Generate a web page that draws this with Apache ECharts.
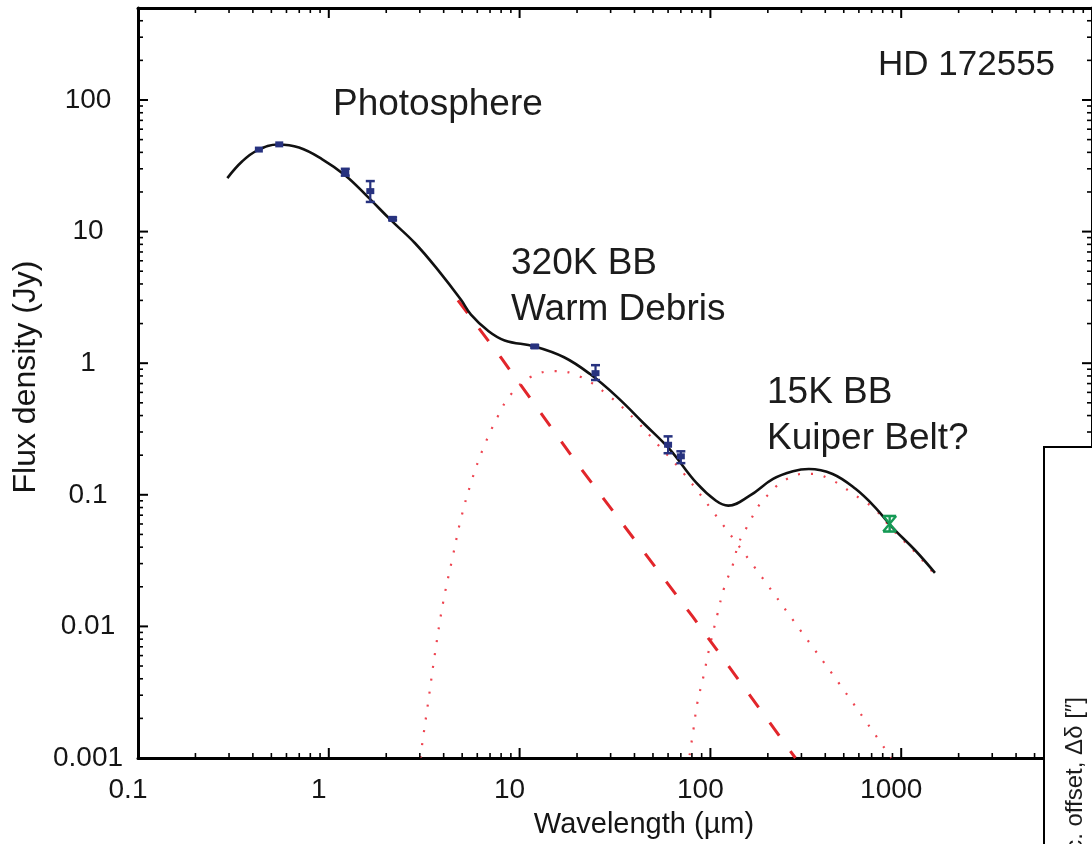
<!DOCTYPE html>
<html>
<head>
<meta charset="utf-8">
<script src="https://cdn.jsdelivr.net/npm/echarts@6/dist/echarts.min.js"></script>
<style>
html,body{margin:0;padding:0;background:#fff;}
#chart{width:1092px;height:844px;}
</style>
</head>
<body>
<div id="chart"></div>
<script>
// ---- data ----
const xTickLabels = ['0.1', '1', '10', '100', '1000'];
const yTickLabels = ['0.001', '0.01', '0.1', '1', '10', '100'];

// total model (photosphere + 320 K + 15 K)
const totalWl   = [0.294,0.352,0.422,0.542,0.698,0.920,1.226,1.616,2.13,2.84,3.74,4.93,5.56,6.81,8.35,12.0,17.1,23.4,32.4,44.8,61.1,84.5,107,124,160,213,271,328,437,576,732,898,1183,1503];
const totalFlux = [25.5,34.2,41.4,45.9,43.5,35.6,26.6,18.1,12.1,8.12,5.09,3.03,2.34,1.77,1.49,1.34,1.11,0.827,0.555,0.348,0.222,0.123,0.0901,0.0827,0.098,0.132,0.151,0.157,0.144,0.111,0.080,0.0565,0.0379,0.0255];

// photosphere (Rayleigh-Jeans tail, dashed)
const photWl   = [4.75, 7.96, 20.5, 80.6, 279];
const photFlux = [3.0, 1.11, 0.165, 0.0119, 0.001];

// 320 K blackbody, warm debris (dotted)
const warmWl   = [3.02,3.05,3.32,3.61,3.97,4.48,4.93,5.56,6.42,7.68,8.97,11.4,15.2,20.5,29.8,41.2,52.3,72.3,115,184,294,470,741,887];
const warmFlux = [0.001,0.00113,0.00268,0.00638,0.0151,0.0348,0.0660,0.123,0.222,0.393,0.575,0.785,0.871,0.798,0.555,0.360,0.246,0.146,0.0605,0.0242,0.00949,0.00373,0.00146,0.001];

// 15 K blackbody, Kuiper belt (dotted)
const coldWl   = [77.8,81.5,85.5,91.9,97.7,109,118,132,140,156,182,203,226,258,301,352,412,470,542,611,732,898,1183,1503];
const coldFlux = [0.00105,0.00165,0.00264,0.00414,0.00638,0.0125,0.0196,0.0303,0.0421,0.0575,0.0856,0.102,0.119,0.134,0.144,0.144,0.134,0.121,0.105,0.0933,0.0771,0.0546,0.0366,0.0246];

// photometry (blue)
const obsWl   = [0.43, 0.55, 1.22, 1.65, 2.16, 12, 25, 60, 70];
const obsFlux = [42, 46, 28.3, 20.3, 12.5, 1.34, 0.84, 0.24, 0.196];
const obsLo   = [42, 46, 26.6, 16.8, 12.2, 1.31, 0.745, 0.207, 0.174];
const obsHi   = [42, 46, 30.0, 24.2, 12.8, 1.37, 0.966, 0.278, 0.214];

// sub-mm point (green)
const smmWl   = [870];
const smmFlux = [0.0605];
const smmLo   = [0.0526];
const smmHi   = [0.069];

// ---- axis ranges ----
const X_MIN = 0.1, X_MAX = 10000, Y_MIN = 0.001, Y_MAX = 500;

const FONT = '"Liberation Sans", Helvetica, Arial, sans-serif';

function zip(a, b) { return a.map((v, i) => [v, b[i]]); }

// tick values (major = decades, minor = 2..9 x decade)
const xTicks = [], yTicks = [];
for (let e = -1; e <= 4; e++) {
  const base = Math.pow(10, e);
  xTicks.push([base, 1, 2]);
  if (e < 4) for (let m = 2; m <= 9; m++) xTicks.push([m * base, 1, 1]);
}
for (let e = -3; e <= 2; e++) {
  const base = Math.pow(10, e);
  yTicks.push([1, base, 2]);
  for (let m = 2; m <= 9; m++) { if (m * base < Y_MAX) yTicks.push([1, m * base, 1]); }
}

function labelFmt(labels, minExp) {
  return function (v) {
    const e = Math.log10(v);
    const r = Math.round(e);
    if (Math.abs(e - r) > 1e-6) return '';
    return labels[r - minExp] || '';
  };
}

function renderXTick(params, api) {
  const v = api.value(0), major = api.value(2) === 2;
  const len = major ? 10 : 5;
  const b = api.coord([v, Y_MIN]);
  const t = api.coord([v, Y_MAX]);
  const st = { stroke: '#000', lineWidth: major ? 2 : 1.6 };
  return { type: 'group', children: [
    { type: 'line', shape: { x1: b[0], y1: b[1], x2: b[0], y2: b[1] - len }, style: st },
    { type: 'line', shape: { x1: t[0], y1: t[1], x2: t[0], y2: t[1] + len }, style: st }
  ]};
}
function renderYTick(params, api) {
  const v = api.value(1), major = api.value(2) === 2;
  const len = major ? 10 : 5;
  const l = api.coord([X_MIN, v]);
  const r = api.coord([X_MAX, v]);
  const st = { stroke: '#000', lineWidth: major ? 2 : 1.6 };
  return { type: 'group', children: [
    { type: 'line', shape: { x1: l[0], y1: l[1], x2: l[0] + len, y2: l[1] }, style: st },
    { type: 'line', shape: { x1: r[0], y1: r[1], x2: r[0] - len, y2: r[1] }, style: st }
  ]};
}

function renderObs(params, api) {
  const x = api.value(0), y = api.value(1), lo = api.value(2), hi = api.value(3);
  const c = api.coord([x, y]), pl = api.coord([x, lo]), ph = api.coord([x, hi]);
  const col = '#27327f';
  const kids = [];
  if (Math.abs(pl[1] - ph[1]) > 1) {
    kids.push({ type: 'line', shape: { x1: c[0], y1: pl[1], x2: c[0], y2: ph[1] }, style: { stroke: col, lineWidth: 2.2 } });
    kids.push({ type: 'line', shape: { x1: c[0] - 4.5, y1: pl[1], x2: c[0] + 4.5, y2: pl[1] }, style: { stroke: col, lineWidth: 2.5 } });
    kids.push({ type: 'line', shape: { x1: c[0] - 4.5, y1: ph[1], x2: c[0] + 4.5, y2: ph[1] }, style: { stroke: col, lineWidth: 2.5 } });
  }
  kids.push({ type: 'rect', shape: { x: c[0] - 4, y: c[1] - 3, width: 8, height: 6 }, style: { fill: col } });
  return { type: 'group', children: kids };
}
function renderSmm(params, api) {
  const x = api.value(0), y = api.value(1), lo = api.value(2), hi = api.value(3);
  const c = api.coord([x, y]), pl = api.coord([x, lo]), ph = api.coord([x, hi]);
  const col = '#159a55';
  const w = 6.5;
  return { type: 'group', children: [
    { type: 'line', shape: { x1: c[0] - w, y1: pl[1], x2: c[0] + w, y2: pl[1] }, style: { stroke: col, lineWidth: 2.6 } },
    { type: 'line', shape: { x1: c[0] - w, y1: ph[1], x2: c[0] + w, y2: ph[1] }, style: { stroke: col, lineWidth: 2.6 } },
    { type: 'polyline', shape: { points: [[c[0] - w, ph[1]], [c[0] + w, pl[1]]] }, style: { stroke: col, lineWidth: 2.4, fill: null } },
    { type: 'polyline', shape: { points: [[c[0] + w, ph[1]], [c[0] - w, pl[1]]] }, style: { stroke: col, lineWidth: 2.4, fill: null } },
    { type: 'line', shape: { x1: c[0], y1: pl[1], x2: c[0], y2: ph[1] }, style: { stroke: col, lineWidth: 2.4 } }
  ]};
}

const axisLineStyle = { show: true, lineStyle: { color: '#000', width: 3 } };
const labelStyle = { color: '#151515', fontSize: 28, fontFamily: FONT };

const chart = echarts.init(document.getElementById('chart'), null, { renderer: 'canvas' });
chart.setOption({
  animation: false,
  backgroundColor: '#fff',
  grid: { left: 138, top: 8, width: 960, height: 757, containLabel: false },
  xAxis: [
    {
      type: 'log', logBase: 10, min: X_MIN, max: X_MAX, position: 'bottom',
      axisLine: axisLineStyle, axisTick: { show: false }, splitLine: { show: false },
      axisLabel: Object.assign({ margin: 18, align: 'center', padding: [0, 20, 0, 0],
        formatter: labelFmt(xTickLabels, -1), showMaxLabel: false }, labelStyle),
      name: 'Wavelength (\u00b5m)', nameLocation: 'middle', nameGap: 52,
      nameTextStyle: { color: '#151515', fontSize: 29, fontFamily: FONT, padding: [0, 0, 0, 58] }
    },
    {
      type: 'log', logBase: 10, min: X_MIN, max: X_MAX, position: 'top',
      axisLine: axisLineStyle, axisTick: { show: false }, splitLine: { show: false }, axisLabel: { show: false }
    }
  ],
  yAxis: [
    {
      type: 'log', logBase: 10, min: Y_MIN, max: Y_MAX, position: 'left',
      axisLine: axisLineStyle, axisTick: { show: false }, splitLine: { show: false },
      axisLabel: Object.assign({ margin: 50, align: 'center', formatter: labelFmt(yTickLabels, -3) }, labelStyle),
      name: 'Flux density (Jy)', nameLocation: 'middle', nameGap: 96, nameRotate: 90,
      nameTextStyle: { color: '#151515', fontSize: 32, fontFamily: FONT, padding: [0, 0, 0, 12] }
    },
    {
      type: 'log', logBase: 10, min: Y_MIN, max: Y_MAX, position: 'right',
      axisLine: axisLineStyle, axisTick: { show: false }, splitLine: { show: false }, axisLabel: { show: false }
    }
  ],
  series: [
    { name: '320K BB', type: 'line', data: zip(warmWl, warmFlux), smooth: 0.4, showSymbol: false, z: 2,
      lineStyle: { color: '#ee4450', width: 2.2, type: [2, 11] } },
    { name: '15K BB', type: 'line', data: zip(coldWl, coldFlux), smooth: 0.4, showSymbol: false, z: 2,
      lineStyle: { color: '#ee4450', width: 2.2, type: [2, 11] } },
    { name: 'Photosphere', type: 'line', data: zip(photWl, photFlux), smooth: false, showSymbol: false, z: 3,
      lineStyle: { color: '#e2262b', width: 3, type: [16, 19] } },
    { name: 'Total', type: 'line', data: zip(totalWl, totalFlux), smooth: 0.4, showSymbol: false, z: 4,
      lineStyle: { color: '#111', width: 2.6 } },
    { name: 'Photometry', type: 'custom', renderItem: renderObs, z: 5, clip: false,
      data: obsWl.map((w, i) => [w, obsFlux[i], obsLo[i], obsHi[i]]), encode: { x: 0, y: 1 } },
    { name: 'Sub-mm', type: 'custom', renderItem: renderSmm, z: 5, clip: false,
      data: smmWl.map((w, i) => [w, smmFlux[i], smmLo[i], smmHi[i]]), encode: { x: 0, y: 1 } },
    { name: 'xticks', type: 'custom', renderItem: renderXTick, z: 6, clip: false, silent: true,
      data: xTicks, encode: { x: 0, y: 1 } },
    { name: 'yticks', type: 'custom', renderItem: renderYTick, z: 6, clip: false, silent: true,
      data: yTicks, encode: { x: 0, y: 1 } }
  ],
  graphic: [
    { type: 'text', left: 333, top: 86, z: 10, style: { text: 'Photosphere', font: '37px ' + FONT, fill: '#1c1c1c' } },
    { type: 'text', left: 878, top: 48, z: 10, style: { text: 'HD 172555', font: '35px ' + FONT, fill: '#1c1c1c' } },
    { type: 'text', left: 511, top: 245, z: 10, style: { text: '320K BB', font: '37px ' + FONT, fill: '#1c1c1c' } },
    { type: 'text', left: 511, top: 291, z: 10, style: { text: 'Warm Debris', font: '37px ' + FONT, fill: '#1c1c1c' } },
    { type: 'text', left: 767, top: 374, z: 10, style: { text: '15K BB', font: '37px ' + FONT, fill: '#1c1c1c' } },
    { type: 'text', left: 767, top: 420, z: 10, style: { text: 'Kuiper Belt?', font: '37px ' + FONT, fill: '#1c1c1c' } },
    { type: 'rect', z: 20, shape: { x: 1044, y: 447, width: 100, height: 420 },
      style: { fill: '#fff', stroke: '#000', lineWidth: 2 } },
    { type: 'text', z: 21, x: 1075, y: 697, rotation: Math.PI / 2,
      style: { text: 'Dec. offset, \u0394\u03b4 [\u2033]', font: '24px ' + FONT, fill: '#1c1c1c',
        textAlign: 'right', textVerticalAlign: 'middle' } }
  ]
});
</script>
</body>
</html>
